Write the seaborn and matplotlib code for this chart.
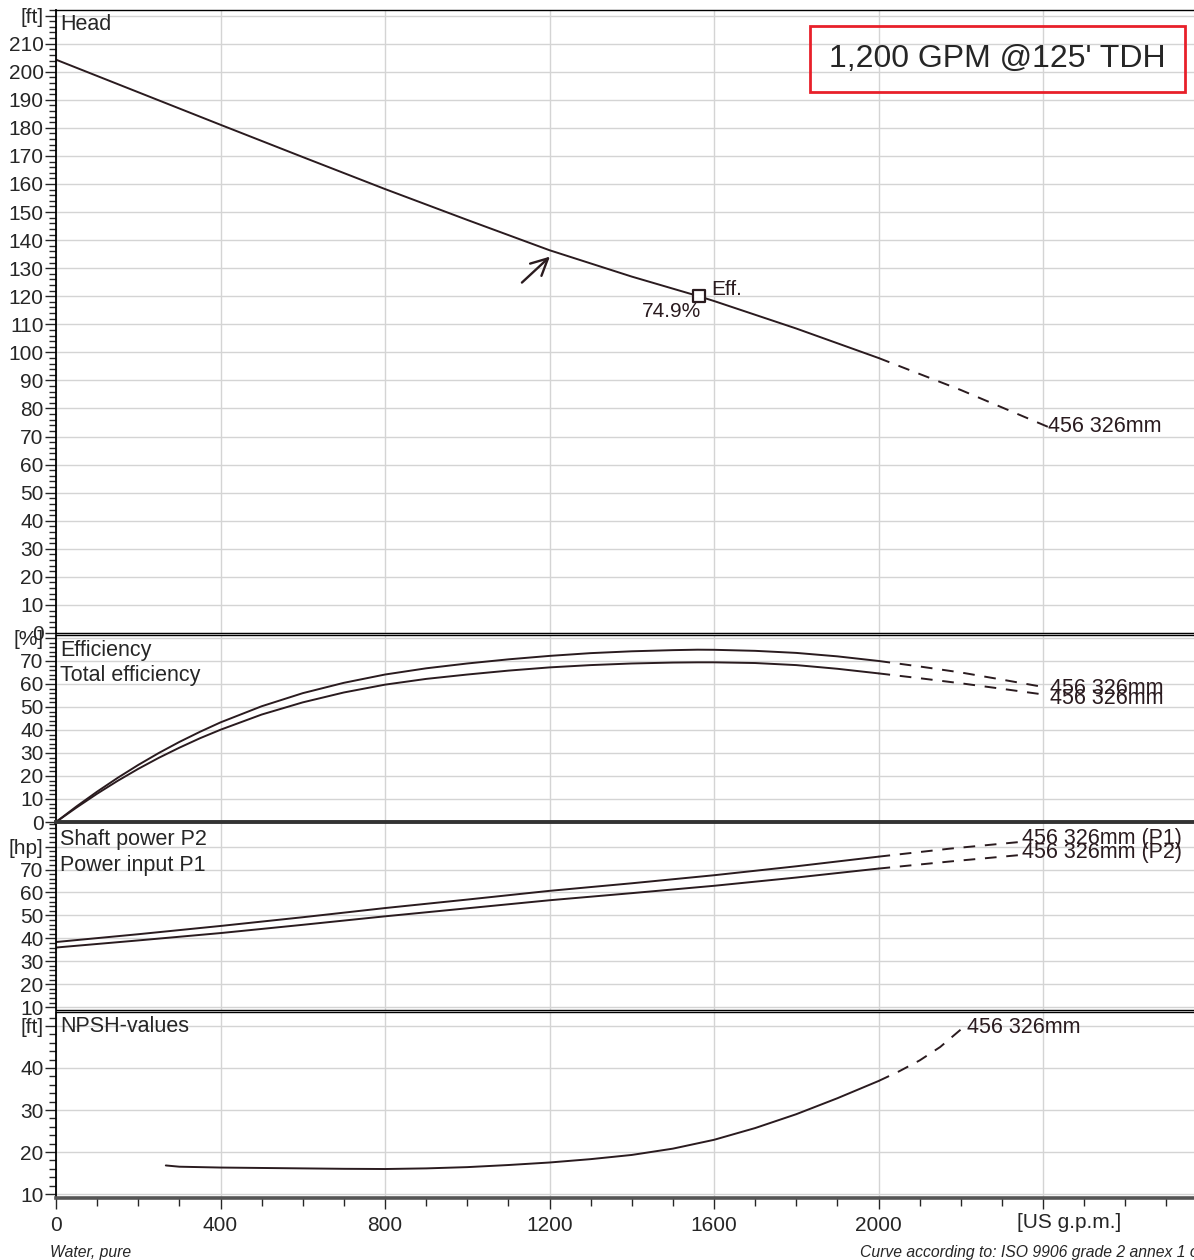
import matplotlib
matplotlib.use("Agg")
import matplotlib.pyplot as plt
import seaborn as sns
import pandas as pd
from matplotlib.ticker import MultipleLocator, FixedLocator, FixedFormatter
from matplotlib.patches import Rectangle

# ---- data ----
flow_head = [0, 200, 400, 600, 800, 1000, 1200, 1400, 1563, 1600, 1800, 2000, 2200, 2413]
head_ft = [204.3, 192.7, 181.1, 169.6, 158.2, 147.2, 136.4, 127.0, 120.0, 118.3, 108.5, 98.0, 86.6, 73.4]

flow_eff = [0, 50, 100, 150, 200, 250, 300, 350, 400, 500, 600, 700, 800, 900, 1000, 1100,
            1200, 1300, 1400, 1500, 1560, 1600, 1700, 1800, 1900, 2000, 2100, 2200, 2300, 2410]
eff_pump = [0, 6.8, 13.2, 19.2, 24.8, 30.0, 34.8, 39.2, 43.3, 50.3, 56.0, 60.5, 64.1, 66.8, 68.9, 70.7,
            72.2, 73.4, 74.2, 74.7, 74.9, 74.85, 74.4, 73.5, 72.0, 70.0, 67.6, 65.0, 61.9, 58.4]
eff_total = [0, 6.3, 12.3, 17.9, 23.1, 27.9, 32.3, 36.4, 40.1, 46.7, 52.0, 56.3, 59.7, 62.2, 64.1, 65.8,
             67.2, 68.2, 68.9, 69.3, 69.4, 69.4, 69.1, 68.2, 66.6, 64.6, 62.5, 60.3, 57.9, 55.2]

flow_power = [0, 200, 400, 600, 800, 1000, 1200, 1400, 1600, 1800, 2000, 2174, 2350]
power_p1 = [38.4, 41.8, 45.4, 49.2, 53.2, 56.9, 60.7, 64.0, 67.5, 71.4, 75.6, 79.1, 82.1]
power_p2 = [36.0, 39.1, 42.3, 45.9, 49.6, 53.1, 56.6, 59.7, 62.9, 66.5, 70.4, 73.5, 76.4]

flow_npsh = [267, 300, 400, 500, 600, 700, 800, 900, 1000, 1100, 1200, 1300, 1400, 1500, 1600,
             1700, 1800, 1900, 2000, 2050, 2100, 2150, 2215]
npsh_ft = [16.8, 16.5, 16.3, 16.2, 16.1, 16.0, 15.95, 16.1, 16.4, 16.9, 17.5, 18.3, 19.3, 20.8, 22.9,
           25.7, 29.0, 32.8, 36.9, 39.2, 41.8, 45.0, 50.4]

bep_flow, bep_head, bep_eff = 1563, 120.0, "74.9%"
impeller = "456 326mm"
duty_text = "1,200 GPM @125' TDH"
solid_limit = 2000  # curves are dashed past this flow

LINE = "#2a1b1f"
GRID = "#d4d4d4"
FS = 15
LFS = 15.5

sns.set_style("white")
plt.rcParams["font.family"] = ["Liberation Sans", "DejaVu Sans"]

W, H = 1194, 1260
fig = plt.figure(figsize=(W / 100, H / 100), dpi=100)

LEFT = 56
XMAX = (W - LEFT) / 0.41125


def fx(px):
    return px / W


def fy(py):
    return 1 - py / H


def panel(top, bottom):
    return fig.add_axes([fx(LEFT), fy(bottom), 1 - fx(LEFT), (bottom - top) / H])


def draw_curve(ax, x, y, label=None, lx=None, ly=None):
    df = pd.DataFrame({"q": x, "v": y})
    sns.lineplot(data=df[df.q <= solid_limit], x="q", y="v", ax=ax,
                 color=LINE, lw=1.4, estimator=None, sort=False)
    sns.lineplot(data=df[df.q >= solid_limit], x="q", y="v", ax=ax,
                 color=LINE, lw=1.4, linestyle=(0, (6, 5)), estimator=None, sort=False)
    if label:
        ax.text(lx, ly, label, fontsize=LFS, color=LINE, ha="left", va="center")


def style_y(ax, lo, hi, step, unit, ylim):
    ticks = list(range(lo, hi + 1, step))
    labels = [str(t) for t in ticks[:-1]] + [unit]
    ax.set_ylim(*ylim)
    ax.yaxis.set_major_locator(FixedLocator(ticks))
    ax.yaxis.set_major_formatter(FixedFormatter(labels))
    ax.yaxis.set_minor_locator(MultipleLocator(2))
    ax.tick_params(axis="y", which="major", length=8, width=1, labelsize=FS, pad=1, left=True)
    ax.tick_params(axis="y", which="minor", length=5, width=1, left=True)
    ax.set_xlim(0, XMAX)
    ax.xaxis.set_major_locator(MultipleLocator(400))
    ax.xaxis.set_minor_locator(MultipleLocator(100))
    ax.grid(True, which="major", color=GRID, lw=1)
    ax.set_axisbelow(True)
    ax.set_xlabel("")
    ax.set_ylabel("")
    ax.spines["right"].set_visible(False)
    ax.spines["left"].set_color("black")
    ax.spines["left"].set_linewidth(1.3)
    for s in ("top", "bottom"):
        ax.spines[s].set_color("black")
        ax.spines[s].set_linewidth(1)


ax_head = panel(10, 633)
ax_eff = panel(634.5, 822)
ax_pow = panel(822, 1009.5)
ax_npsh = panel(1011.5, 1198)
ax_eff.set_zorder(3)
ax_eff.patch.set_alpha(0)

# Head
draw_curve(ax_head, flow_head, head_ft, impeller, flow_head[-1], head_ft[-1] + 0.3)
style_y(ax_head, 0, 220, 10, "[ft]", (0, 222))
sns.scatterplot(x=[bep_flow], y=[bep_head], marker="s", s=85, color="white",
                edgecolor=LINE, linewidth=1.6, ax=ax_head, zorder=5)
ax_head.text(1593, 122.4, "Eff.", fontsize=FS, color=LINE, va="center")
ax_head.text(1568, 114.4, bep_eff, fontsize=FS, color=LINE, va="center", ha="right")
ax_head.annotate("", xy=(1206, 134.8), xytext=(1128, 124.2),
                 arrowprops=dict(arrowstyle="->", lw=1.7, color=LINE, mutation_scale=30))

# Efficiency
draw_curve(ax_eff, flow_eff, eff_pump, impeller, 2418, 58.0)
draw_curve(ax_eff, flow_eff, eff_total, impeller, 2418, 53.8)
style_y(ax_eff, 0, 80, 10, "[%]", (0, 81.5))

# Power
draw_curve(ax_pow, flow_power, power_p1, impeller + " (P1)", 2350, 83.4)
draw_curve(ax_pow, flow_power, power_p2, impeller + " (P2)", 2350, 77.2)
style_y(ax_pow, 10, 80, 10, "[hp]", (9.0, 90.7))

# NPSH
draw_curve(ax_npsh, flow_npsh, npsh_ft, impeller, flow_npsh[-1], 49.7)
style_y(ax_npsh, 10, 50, 10, "[ft]", (9.05, 53.45))

for ax in (ax_head, ax_eff, ax_pow):
    ax.tick_params(axis="x", which="both", bottom=False, labelbottom=False)

ax_eff.spines["bottom"].set_color("#333333")
ax_eff.spines["bottom"].set_linewidth(2.8)
ax_pow.spines["top"].set_visible(False)
ax_npsh.spines["bottom"].set_color("#555555")
ax_npsh.spines["bottom"].set_linewidth(2.6)

xt = list(range(0, 2401, 400))
ax_npsh.xaxis.set_major_locator(FixedLocator(xt))
ax_npsh.xaxis.set_major_formatter(FixedFormatter([str(t) for t in xt[:-1]] + [""]))
ax_npsh.tick_params(axis="x", which="major", length=8, width=1, labelsize=FS, pad=5, bottom=True)
ax_npsh.tick_params(axis="x", which="minor", length=6, width=1, bottom=True)
fig.text(fx(1069), fy(1222), "[US g.p.m.]", fontsize=FS, ha="center", va="center")

# panel titles
fig.text(fx(60), fy(25), "Head", fontsize=LFS, va="center")
fig.text(fx(60), fy(650), "Efficiency", fontsize=LFS, va="center")
fig.text(fx(60), fy(676), "Total efficiency", fontsize=LFS, va="center")
fig.text(fx(60), fy(839), "Shaft power P2", fontsize=LFS, va="center")
fig.text(fx(60), fy(865), "Power input P1", fontsize=LFS, va="center")
fig.text(fx(60), fy(1027), "NPSH-values", fontsize=LFS, va="center")

# duty point box
fig.patches.append(Rectangle((fx(810), fy(92)), fx(1185) - fx(810), fy(26) - fy(92),
                             transform=fig.transFigure, fill=False, edgecolor="#e8202a", lw=2))
fig.text(fx(997), fy(59), duty_text, fontsize=23, ha="center", va="center")

# footer
fig.text(fx(50), fy(1252), "Water, pure", fontsize=11.3, style="italic", va="center")
fig.text(fx(860), fy(1252), "Curve according to: ISO 9906 grade 2 annex 1 or 2",
         fontsize=11.3, style="italic", va="center")

fig.savefig("out.png", dpi=100)
